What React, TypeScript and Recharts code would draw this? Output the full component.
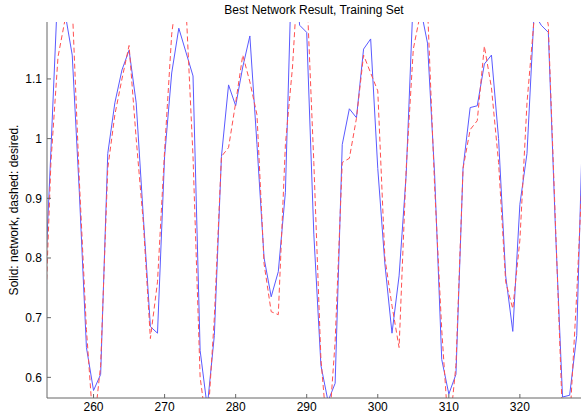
import { LineChart, Line, XAxis, YAxis } from 'recharts';

const steps = [
  253, 254, 255, 256, 257, 258, 259, 260, 261, 262, 263, 264, 265, 266, 267, 268, 269, 270,
  271, 272, 273, 274, 275, 276, 277, 278, 279, 280, 281, 282, 283, 284, 285, 286, 287, 288,
  289, 290, 291, 292, 293, 294, 295, 296, 297, 298, 299, 300, 301, 302, 303, 304, 305, 306,
  307, 308, 309, 310, 311, 312, 313, 314, 315, 316, 317, 318, 319, 320, 321, 322, 323, 324,
  325, 326, 327, 328, 329,
];

// solid blue: network output
const network = [
  0.71, 0.98, 1.26, 1.21, 1.14, 0.91, 0.65, 0.578, 0.605, 0.975, 1.06, 1.115, 1.148, 1.06, 0.87, 0.685, 0.674, 0.97,
  1.11, 1.185, 1.145, 1.105, 0.645, 0.55, 0.67, 0.97, 1.09, 1.055, 1.12, 1.172, 0.99, 0.8, 0.735, 0.777, 0.91, 1.34,
  1.19, 1.178, 0.84, 0.62, 0.56, 0.59, 0.99, 1.05, 1.035, 1.15, 1.167, 0.95, 0.79, 0.674, 0.77, 0.94, 1.24, 1.22,
  1.16, 0.94, 0.63, 0.572, 0.605, 0.95, 1.052, 1.055, 1.125, 1.14, 1.0, 0.77, 0.677, 0.89, 0.975, 1.21, 1.19, 1.178,
  0.85, 0.567, 0.57, 0.67, 1.1,
];

// dashed red: desired output
const desired = [
  0.63, 0.96, 1.137, 1.2, 1.224, 0.93, 0.68, 0.51, 0.62, 0.95, 1.04, 1.1, 1.156, 1.0, 0.86, 0.665, 0.76, 0.98,
  1.175, 1.27, 1.224, 0.97, 0.6, 0.51, 0.7, 0.97, 0.985, 1.06, 1.14, 1.095, 1.04, 0.79, 0.71, 0.705, 0.99, 1.12,
  1.32, 1.25, 0.96, 0.63, 0.49, 0.66, 0.96, 0.967, 1.034, 1.14, 1.11, 1.08, 0.8, 0.72, 0.65, 0.95, 1.15, 1.21,
  1.22, 0.92, 0.68, 0.5, 0.62, 0.95, 1.015, 1.03, 1.155, 1.085, 0.96, 0.76, 0.715, 0.83, 1.06, 1.2, 1.25, 1.19,
  0.86, 0.53, 0.52, 0.74, 1.0,
];

const xTicks = [260, 270, 280, 290, 300, 310, 320];
const yTicks = [0.6, 0.7, 0.8, 0.9, 1, 1.1];

const data = steps.map((x, i) => ({ x, network: network[i], desired: desired[i] }));

const FONT = '"Liberation Sans", Arial, Helvetica, sans-serif';
const AXIS = '#666';
const X_DOMAIN = [253.45, 328.6];
const Y_DOMAIN = [0.5654, 1.1954];

export default function App() {
  return (
    <div
      style={{
        position: 'absolute',
        left: 0,
        top: 0,
        width: 581,
        height: 416,
        background: '#fff',
        fontFamily: FONT,
      }}
    >
      <LineChart width={581} height={416} data={data} margin={{ top: 22, right: 0, bottom: 0, left: 0 }}>
        <XAxis
          xAxisId="bottom"
          dataKey="x"
          type="number"
          domain={X_DOMAIN}
          allowDataOverflow
          ticks={xTicks}
          tickSize={-4}
          tickMargin={8}
          height={18}
          stroke={AXIS}
          tick={{ fill: '#000', fontSize: 12, fontFamily: FONT }}
        />
        <XAxis
          xAxisId="top"
          orientation="top"
          dataKey="x"
          type="number"
          domain={X_DOMAIN}
          allowDataOverflow
          ticks={xTicks}
          tickSize={-4}
          height={0}
          stroke={AXIS}
          tick={false}
        />
        <YAxis
          yAxisId="left"
          type="number"
          domain={Y_DOMAIN}
          allowDataOverflow
          ticks={yTicks}
          tickSize={-4}
          tickMargin={9}
          width={47}
          stroke={AXIS}
          tick={{ fill: '#000', fontSize: 12, fontFamily: FONT }}
        />
        <YAxis
          yAxisId="right"
          orientation="right"
          type="number"
          domain={Y_DOMAIN}
          allowDataOverflow
          ticks={yTicks}
          tickSize={-4}
          width={0}
          stroke={AXIS}
          tick={false}
        />
        <Line
          xAxisId="bottom"
          yAxisId="left"
          type="linear"
          dataKey="network"
          stroke="#5a5aff"
          strokeWidth={1}
          dot={false}
          isAnimationActive={false}
        />
        <Line
          xAxisId="bottom"
          yAxisId="left"
          type="linear"
          dataKey="desired"
          stroke="#ff5050"
          strokeWidth={1}
          strokeDasharray="5 3"
          dot={false}
          isAnimationActive={false}
        />
      </LineChart>
      <svg
        width={581}
        height={416}
        style={{ position: 'absolute', left: 0, top: 0, pointerEvents: 'none' }}
      >
        <text x={314} y={13.5} textAnchor="middle" fontSize={12} fill="#000" fontFamily={FONT}>
          Best Network Result, Training Set
        </text>
        <text
          x={18}
          y={210}
          textAnchor="middle"
          fontSize={12}
          fill="#000"
          fontFamily={FONT}
          transform="rotate(-90 18 210)"
        >
          Solid: network, dashed: desired.
        </text>
      </svg>
    </div>
  );
}
